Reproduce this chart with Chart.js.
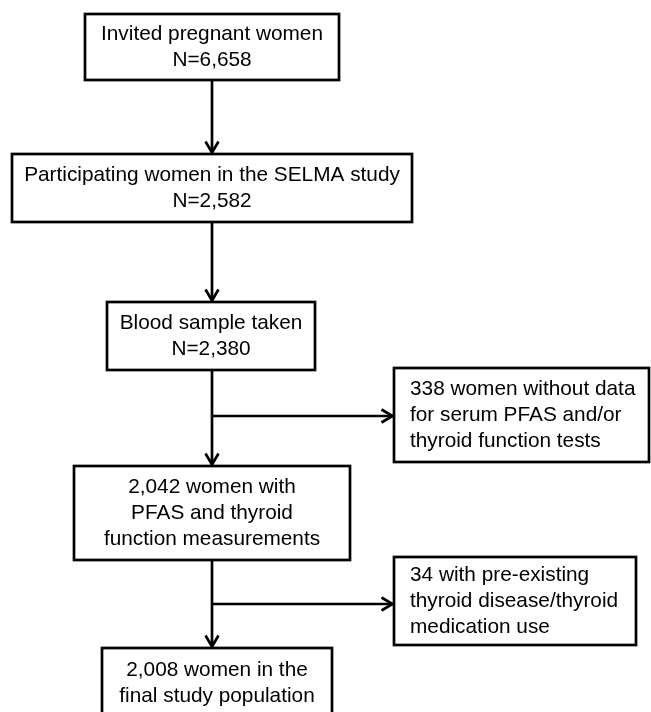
<!DOCTYPE html>
<html>
<head>
<meta charset="utf-8">
<script src="https://cdn.jsdelivr.net/npm/chart.js@4.4.1/dist/chart.umd.min.js"></script>
<style>
  html, body { margin: 0; padding: 0; background: #fff; }
  #wrap { width: 651px; height: 712px; }
</style>
</head>
<body>
<div id="wrap"><canvas id="flow"></canvas></div>
<script>
// flow stages and the number of women left at each step
var stageCounts = [6658, 2582, 2380, 2042, 2008];
var stageText = [
  ['Invited pregnant women', 'N={n}'],
  ['Participating women in the SELMA study', 'N={n}'],
  ['Blood sample taken', 'N={n}'],
  ['{n} women with', 'PFAS and thyroid', 'function measurements'],
  ['{n} women in the', 'final study population']
];
// exclusions between stage 3->4 and 4->5
var excludedCounts = [338, 34];
var excludedText = [
  ['{n} women without data', 'for serum PFAS and/or', 'thyroid function tests'],
  ['{n} with pre-existing', 'thyroid disease/thyroid', 'medication use']
];

// layout (in scale units, same as page pixels)
var spineX = 212;
var mainBoxes = [
  { x0: 85, x1: 339, y0: 14, y1: 80 },
  { x0: 12, x1: 412, y0: 154, y1: 222 },
  { x0: 107, x1: 315, y0: 302, y1: 370 },
  { x0: 74, x1: 350, y0: 466, y1: 560 },
  { x0: 102, x1: 332, y0: 648, y1: 720 }
];
var sideBoxes = [
  { x0: 394, x1: 649, y0: 368, y1: 462, branchY: 416 },
  { x0: 394, x1: 636, y0: 557, y1: 645, branchY: 604 }
];

var FONT = '20.8px "Liberation Sans", Arial, sans-serif';
var LINE_H = 26;

function fmt(n) { return n.toLocaleString('en-US'); }

var flowPlugin = {
  id: 'flow',
  afterDraw: function(chart) {
    var ctx = chart.ctx;
    var xs = chart.scales.x, ys = chart.scales.y;
    function px(v) { return xs.getPixelForValue(v); }
    function py(v) { return ys.getPixelForValue(v); }

    ctx.save();
    ctx.strokeStyle = '#000';
    ctx.fillStyle = '#000';
    ctx.lineWidth = 2.7;
    ctx.font = FONT;
    ctx.textBaseline = 'middle';

    function box(b) {
      ctx.strokeRect(px(b.x0), py(b.y0), px(b.x1) - px(b.x0), py(b.y1) - py(b.y0));
    }
    function lines(b, txt, n, align) {
      var cy = (py(b.y0) + py(Math.min(b.y1, 718))) / 2;
      var start = cy - (txt.length - 1) * LINE_H / 2;
      ctx.textAlign = align;
      var x = align === 'center' ? (px(b.x0) + px(b.x1)) / 2 : px(b.x0) + 16;
      txt.forEach(function(t, i) {
        ctx.fillText(t.replace('{n}', fmt(n)), x, start + i * LINE_H);
      });
    }
    function seg(x0, y0, x1, y1) {
      ctx.beginPath();
      ctx.moveTo(px(x0), py(y0));
      ctx.lineTo(px(x1), py(y1));
      ctx.stroke();
    }
    function headDown(x, y) {
      ctx.beginPath();
      ctx.moveTo(px(x) - 6.5, py(y) - 11);
      ctx.lineTo(px(x), py(y));
      ctx.lineTo(px(x) + 6.5, py(y) - 11);
      ctx.stroke();
    }
    function headRight(x, y) {
      ctx.beginPath();
      ctx.moveTo(px(x) - 11, py(y) - 6.5);
      ctx.lineTo(px(x), py(y));
      ctx.lineTo(px(x) - 11, py(y) + 6.5);
      ctx.stroke();
    }

    mainBoxes.forEach(function(b, i) {
      box(b);
      lines(b, stageText[i], stageCounts[i], 'center');
    });
    sideBoxes.forEach(function(b, i) {
      box(b);
      lines(b, excludedText[i], excludedCounts[i], 'left');
    });

    // vertical connectors between main boxes
    for (var i = 0; i < mainBoxes.length - 1; i++) {
      var top = mainBoxes[i].y1, bot = mainBoxes[i + 1].y0 - 1.5;
      seg(spineX, top, spineX, bot);
      headDown(spineX, bot);
    }
    // branches to exclusion boxes
    sideBoxes.forEach(function(b) {
      seg(spineX, b.branchY, b.x0 - 1.5, b.branchY);
      headRight(b.x0 - 1.5, b.branchY);
    });
    ctx.restore();
  }
};

new Chart(document.getElementById('flow'), {
  type: 'scatter',
  data: { datasets: [{ data: [], pointRadius: 0 }] },
  options: {
    responsive: true,
    maintainAspectRatio: false,
    animation: false,
    layout: { padding: 0 },
    plugins: { legend: { display: false }, tooltip: { enabled: false } },
    scales: {
      x: { type: 'linear', min: 0, max: 651, display: false },
      y: { type: 'linear', min: 0, max: 712, reverse: true, display: false }
    }
  },
  plugins: [flowPlugin]
});
</script>
</body>
</html>
